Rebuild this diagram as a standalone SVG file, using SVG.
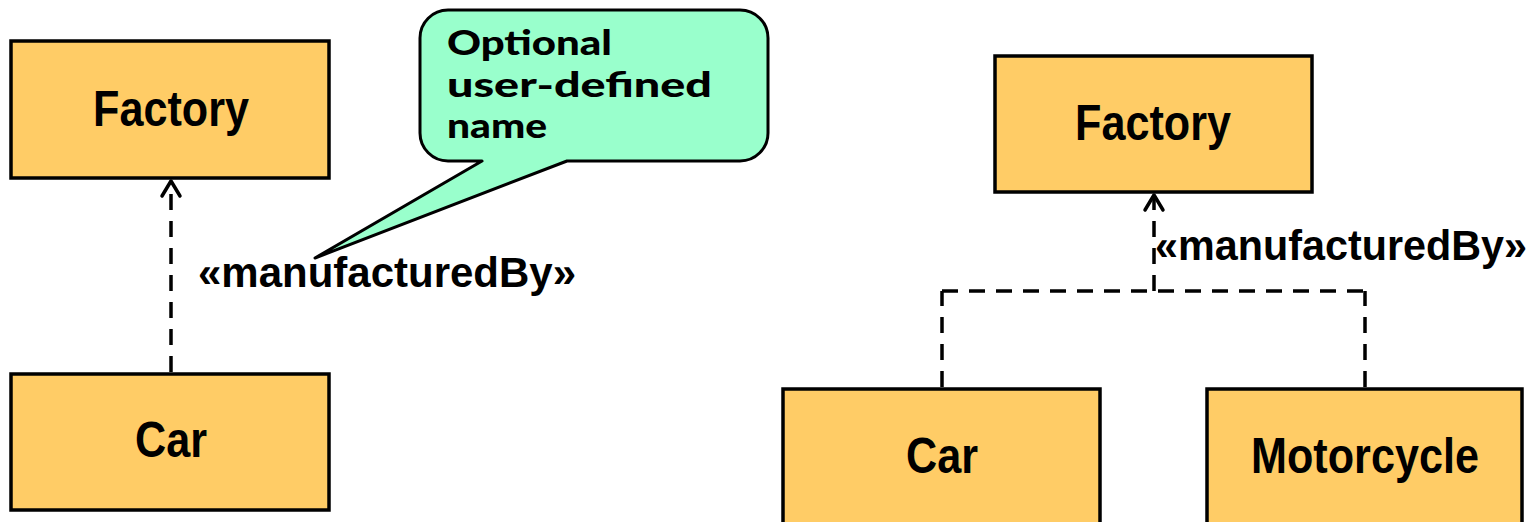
<svg xmlns="http://www.w3.org/2000/svg" width="1533" height="522" viewBox="0 0 1533 522">
  <style>
    .cls { fill: #ffcc66; stroke: #000; stroke-width: 3.5; }
    .cname { font-family: "Liberation Sans", Arial, sans-serif; font-weight: bold; font-size: 50px; fill: #000; text-anchor: middle; }
    .stereo { font-family: "Liberation Sans", Arial, sans-serif; font-weight: bold; font-size: 42px; fill: #000; }
    .dep { fill: none; stroke: #000; stroke-width: 3.5; stroke-dasharray: 16 11; }
    .head { fill: none; stroke: #000; stroke-width: 3.5; stroke-linecap: round; stroke-linejoin: round; }
    .note { fill: #99ffcc; stroke: #000; stroke-width: 3; stroke-linejoin: round; }
    .notetext { font-family: Lato, "Open Sans", sans-serif; font-weight: 900; font-size: 34px; fill: #000; }
  </style>

  <!-- left: single dependency -->
  <g id="factory-left">
    <rect class="cls" x="11" y="41" width="318" height="137"/>
    <text class="cname" x="171" y="126" textLength="156" lengthAdjust="spacingAndGlyphs">Factory</text>
  </g>
  <g id="car-left">
    <rect class="cls" x="11" y="374" width="318" height="136"/>
    <text class="cname" x="171" y="457" textLength="72" lengthAdjust="spacingAndGlyphs">Car</text>
  </g>

  <!-- right: shared dependency -->
  <g id="factory-right">
    <rect class="cls" x="995" y="56" width="317" height="136"/>
    <text class="cname" x="1153" y="140" textLength="156" lengthAdjust="spacingAndGlyphs">Factory</text>
  </g>
  <g id="car-right">
    <rect class="cls" x="783" y="389" width="317" height="150"/>
    <text class="cname" x="942" y="473" textLength="72" lengthAdjust="spacingAndGlyphs">Car</text>
  </g>
  <g id="motorcycle">
    <rect class="cls" x="1207" y="389" width="315" height="150"/>
    <text class="cname" x="1365" y="473" textLength="228" lengthAdjust="spacingAndGlyphs">Motorcycle</text>
  </g>

  <g id="connectors">
    <line class="dep" x1="171" y1="372" x2="171" y2="183"/>
    <polyline class="head" points="162,196 171,181 180,196"/>
    <text class="stereo" x="198" y="287" textLength="378" lengthAdjust="spacingAndGlyphs">«manufacturedBy»</text>

    <line class="dep" x1="942" y1="387" x2="942" y2="291"/>
    <line class="dep" x1="1365" y1="387" x2="1365" y2="291"/>
    <line class="dep" x1="942" y1="291" x2="1365" y2="291"/>
    <line class="dep" x1="1154" y1="291" x2="1154" y2="197"/>
    <polyline class="head" points="1145,210 1154,195 1163,210"/>
    <text class="stereo" x="1155" y="260" textLength="372" lengthAdjust="spacingAndGlyphs">«manufacturedBy»</text>
  </g>

  <g id="note">
    <path class="note" d="M448,10 H740 A28,28 0 0 1 768,38 V133 A28,28 0 0 1 740,161 H567 L315,258 L482,161 H448 A28,28 0 0 1 420,133 V38 A28,28 0 0 1 448,10 Z"/>
    <text class="notetext" x="447" y="55" textLength="165" lengthAdjust="spacingAndGlyphs">Optional</text>
    <text class="notetext" x="447" y="97" textLength="265" lengthAdjust="spacingAndGlyphs">user-defined</text>
    <text class="notetext" x="447" y="138" textLength="100" lengthAdjust="spacingAndGlyphs">name</text>
  </g>
</svg>
